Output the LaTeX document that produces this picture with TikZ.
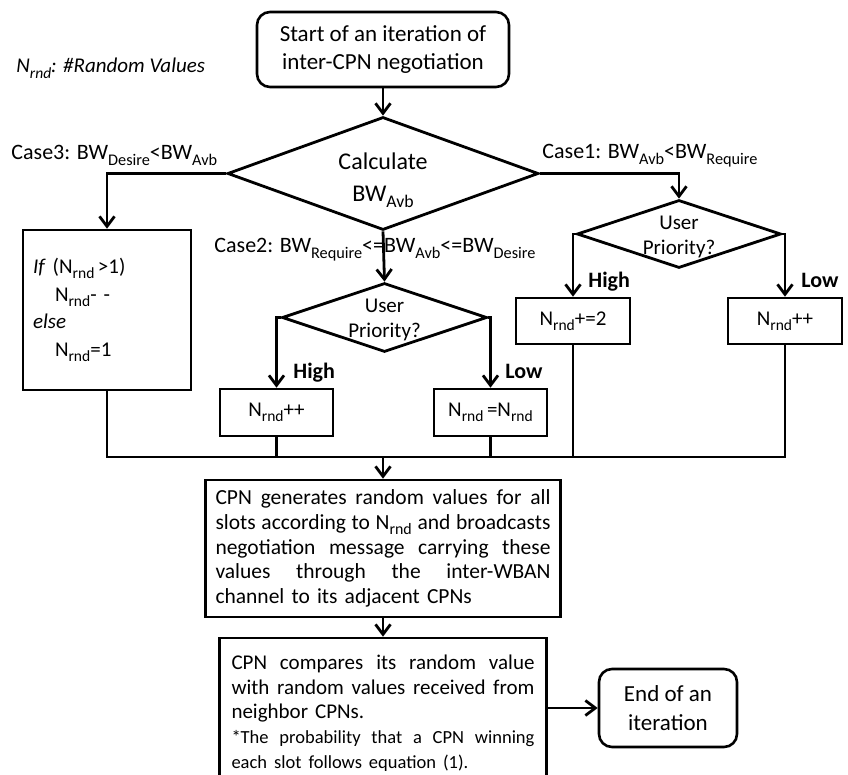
\documentclass[tikz,border=0pt]{standalone}
\usepackage{fontspec}
\usepackage{graphicx}
\setmainfont{Carlito}
\usetikzlibrary{shapes.geometric,arrows.meta}
\newcommand\sbs[1]{\raisebox{-0.24em}{\scalebox{0.74}{#1}}}
\newcommand\jl[2]{\leavevmode\hbox to #1{\spaceskip=0.1em plus 1fil\relax #2}}
\begin{document}
\begin{tikzpicture}[x=1pt,y=-1pt,line width=2.8pt,
 >={Straight Barb[length=10pt,width=15pt]},
 f21/.style={font=\fontsize{21}{25}\selectfont},
 lab/.style={font=\fontsize{22}{26}\selectfont, inner sep=0pt, anchor=base west},
 bl/.style={font=\bfseries\fontsize{22}{26}\selectfont, inner sep=0pt, anchor=base west},
 box/.style={draw, rectangle, inner sep=0pt, line width=2.6pt},
 rbox/.style={box, rounded corners=13pt, align=center},
 dia/.style={draw, diamond, inner sep=0pt, line width=2.8pt},
 txt/.style={inner sep=0pt, align=center},
]
\useasboundingbox (0,0) rectangle (848,775);
\clip (0,0) rectangle (848,775);

\node[inner sep=0pt, anchor=base west, font=\itshape\fontsize{21}{24}\selectfont] (legend) at (15,73) {N\sbs{rnd}: \#Random Values};

\node[rbox, font=\fontsize{23}{28}\selectfont, minimum width=252pt, minimum height=75pt] (start) at (383,49.5) {Start of an iteration of\\inter-CPN negotiation};

\node[dia, minimum width=311pt, minimum height=113pt] (calc) at (383,173.5) {};
\node[txt, font=\fontsize{24}{32}\selectfont] (calct) at (383,180) {Calculate\\BW\sbs{Avb}};

\node[lab] (lc3) at (10,160) {Case3: BW\sbs{Desire}<BW\sbs{Avb}};
\node[lab] (lc1) at (541,159) {Case1: BW\sbs{Avb}<BW\sbs{Require}};
\node[lab] (lc2) at (213,253) {Case2: BW\sbs{Require}<=BW\sbs{Avb}<=BW\sbs{Desire}};

\node[box, minimum width=168pt, minimum height=160pt, text width=148pt, align=left, font=\fontsize{21}{27.5}\selectfont] (c3) at (107,310)
 {\textit{If} (N\sbs{rnd}\,>1)\\\hspace*{22pt}N\sbs{rnd}- -\\\textit{else}\\\hspace*{22pt}N\sbs{rnd}=1};

\node[dia, minimum width=205pt, minimum height=69pt] (ud2) at (384.5,317.5) {};
\node[txt, font=\fontsize{21}{25}\selectfont] (ud2t) at (384.5,320) {User\\Priority?};
\node[dia, minimum width=204pt, minimum height=68pt] (ud1) at (679,234) {};
\node[txt, font=\fontsize{21}{25}\selectfont] (ud1t) at (679,237) {User\\Priority?};

\node[box, f21, minimum width=113pt, minimum height=47pt] (hi2) at (276.5,412.5) {N\sbs{rnd}++};
\node[box, f21, minimum width=113pt, minimum height=47pt] (lo2) at (490.5,412.5) {N\sbs{rnd}\,=N\sbs{rnd}};
\node[box, f21, minimum width=114pt, minimum height=46pt] (hi1) at (573,321) {N\sbs{rnd}+=2};
\node[box, f21, minimum width=114pt, minimum height=46pt] (lo1) at (785,321) {N\sbs{rnd}++};

\node[bl] (h2) at (292,378) {High};
\node[bl] (l2) at (504,378) {Low};
\node[bl] (h1) at (587,288) {High};
\node[bl] (l1) at (800,288) {Low};

\node[box, minimum width=355pt, minimum height=137pt, text width=335pt, align=left, font=\fontsize{21.5}{24.6}\selectfont] (gen) at (383,548.5)
 {\jl{335pt}{CPN generates random values for all}\\
  \jl{335pt}{slots according to N\sbs{rnd} and broadcasts}\\
  \jl{335pt}{negotiation message carrying these}\\
  \jl{335pt}{values through the inter-WBAN}\\
  \mbox{channel to its adjacent CPNs}};

\node[box, minimum width=327pt, minimum height=150pt, text width=303pt, align=left, font=\fontsize{21}{24.6}\selectfont] (cmp) at (383,713)
 {\jl{303pt}{CPN compares its random value}\\
  \jl{303pt}{with random values received from}\\
  \mbox{neighbor CPNs.}\\
  \jl{303pt}{\fontsize{18.5}{24.6}\selectfont *The probability that a CPN winning}\\
  \mbox{\fontsize{18.5}{24.6}\selectfont each slot follows equation (1).}};

\node[rbox, font=\fontsize{23}{29}\selectfont, minimum width=138pt, minimum height=78pt] (endit) at (668,708) {End of an\\iteration};

\draw[->] (start) -- (calc);
\draw[->] (calc.west) -| (c3.north);
\draw[->] (calc.east) -| (ud1.north);
\draw[->] (calc.south) -- (ud2.north);
\draw[->] (ud2.west) -| (hi2.north);
\draw[->] (ud2.east) -| (lo2.north);
\draw[->] (ud1.west) -| (hi1.north);
\draw[->] (ud1.east) -| (lo1.north);
\coordinate (m) at (383,457);
\draw (c3.south) |- (m) -| (lo1.south);
\draw (hi2.south) -- (hi2.south |- m);
\draw (lo2.south) -- (lo2.south |- m);
\draw (hi1.south) -- (hi1.south |- m);
\draw[->] (m) -- (gen.north);
\draw[->] (gen.south) -- (cmp.north);
\draw[->] (endit.west -| cmp.east) -- (endit.west);
\end{tikzpicture}
\end{document}
